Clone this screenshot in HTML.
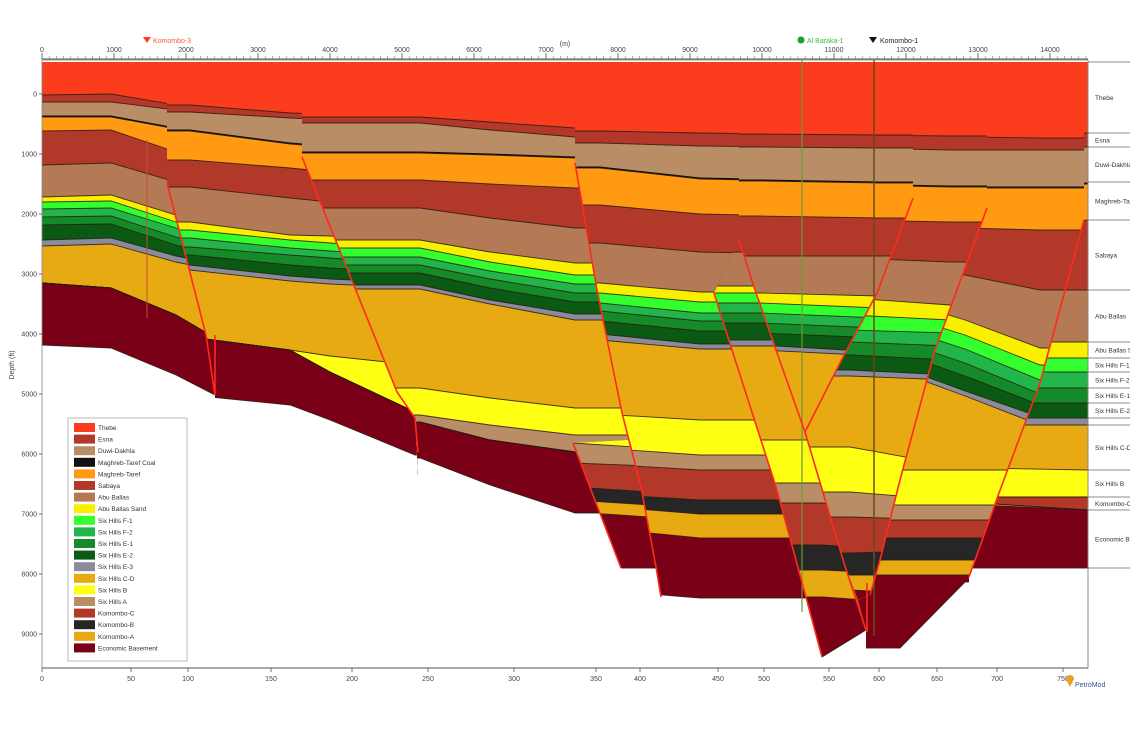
<!DOCTYPE html>
<html><head><meta charset="utf-8"><style>
html,body{margin:0;padding:0;background:#fff;}
svg{display:block;font-family:"Liberation Sans",sans-serif;}
</style></head><body>
<svg id="s" width="1130" height="730" viewBox="0 0 1130 730" xmlns="http://www.w3.org/2000/svg">
<defs id="defs"></defs>
<g id="plot"></g>
<g id="over"></g>
</svg>
<script>
const NS="http://www.w3.org/2000/svg";
const svg=document.getElementById('s'),defs=document.getElementById('defs'),plot=document.getElementById('plot'),over=document.getElementById('over');
function el(tag,attrs,parent,text){const e=document.createElementNS(NS,tag);for(const k in attrs)e.setAttribute(k,attrs[k]);if(text!==undefined)e.textContent=text;(parent||svg).appendChild(e);return e;}
const COLORS=["#b3372b","#b98d66","#111111","#ff9a12","#b2382a","#b47a56","#f8f000","#33ff2e","#22b64a","#148a28","#0b5a14","#8a8c9c","#e8aa12","#ffff14","#b98d66","#b2382a","#262626","#e8aa12","#7a0018"];
const THEBE="#fb3d1e";
el('rect',{x:42,y:62,width:1046,height:606,fill:THEBE},plot);
const blocks=[
 {clip:[[42,60],[167,60],[167,183],[206,335],[215,395],[215,700],[42,700]],xs:[42,111,176,215],rows:[
  [95,102,114,117,131,165,197,202,209,217,225,240,246,283,283,283,283,283,283,345],
  [94,102,114,117,130,163,195,201,208,216,224,238,244,288,288,288,288,288,288,348],
  [105,110,126,129,152,182,215,222,228,237,245,256,262,315,315,315,315,315,315,375],
  [110,115,132,135,160,188,222,230,238,247,255,264,270,338,338,338,338,338,338,395]]},
 {clip:[[167,60],[302,60],[302,157],[397,392],[415,418],[418,475],[418,700],[215,700],[215,395],[206,335],[167,183]],xs:[190,290,330,415],rows:[
  [105,112,128,131,160,187,222,230,238,247,255,265,270,337,337,337,337,337,337,395],
  [113,118,141,144,168,198,235,240,248,255,265,276,281,350,350,350,350,350,350,405],
  [114,120,144,147,172,202,236,243,251,258,268,279,284,356,372,372,372,372,372,420],
  [116,123,148,151,180,208,240,248,256,264,273,283,288,365,412,412,412,412,412,455]]},
 {clip:[[302,60],[575,60],[575,163],[597,290],[622,413],[641,487],[656,567],[661,597],[661,700],[418,700],[418,475],[415,418],[397,392],[302,157]],xs:[420,490,575],rows:[
  [117,123,150,153,180,208,240,248,257,265,273,285,289,388,415,422,422,422,422,458],
  [122,130,152,155,184,218,252,262,271,279,288,300,304,398,425,440,440,440,440,485],
  [128,137,155,158,188,228,263,275,284,293,302,314,320,408,435,452,452,452,452,513]]},
 {clip:[[573,443],[628,440],[641,487],[656,567],[661,597],[661,700],[621,700],[621,568]],xs:[573,650],rows:[
  [128,137,155,158,188,228,263,275,284,293,302,314,320,410,443,463,487,500,512,568],
  [130,140,160,163,195,235,270,280,290,298,308,320,326,416,448,466,492,505,517,568]]},
 {clip:[[575,60],[739,60],[739,240],[714,293],[732,350],[776,487],[796,560],[822,657],[822,700],[661,700],[661,597],[656,567],[641,487],[622,413],[597,290],[575,163]],xs:[600,700,800],rows:[
  [131,143,165,168,205,243,283,293,303,311,321,334,340,414,448,464,494,506,528,590],
  [133,146,176,179,214,252,292,302,313,321,331,344,349,420,455,470,500,514,538,598],
  [134,147,178,181,216,254,292,302,313,321,331,344,349,420,455,470,500,514,538,598]]},
 {clip:[[739,240],[754,287],[776,350],[805,432],[844,563],[866,630],[866,700],[822,700],[822,657],[796,560],[776,487],[732,350],[714,293]],xs:[822,866],rows:[
  [134,147,178,181,215,252,286,293,303,313,323,340,346,440,483,503,545,570,597,657],
  [135,148,180,183,218,255,290,297,307,317,327,342,348,445,487,507,548,572,600,630]]},
 {clip:[[739,60],[913,60],[913,198],[877,293],[840,363],[805,432],[776,350],[754,287],[739,240]],xs:[760,880],rows:[
  [134,147,178,181,216,256,293,303,313,323,333,345,350,700,700,700,700,700,700,700],
  [135,148,180,183,218,256,296,308,318,328,338,352,356,700,700,700,700,700,700,700]]},
 {clip:[[913,60],[987,60],[987,208],[935,350],[900,480],[880,560],[870,595],[858,600],[844,563],[805,432],[840,363],[877,293],[913,198]],xs:[850,950],rows:[
  [135,148,182,185,220,258,298,315,330,342,355,370,376,447,492,517,553,575,590,600],
  [136,150,184,187,222,262,305,320,333,346,360,375,380,465,500,520,550,575,595,600]]},
 {clip:[[987,60],[1084,60],[1084,220],[1040,383],[999,493],[969,577],[969,700],[866,700],[866,630],[858,600],[870,595],[880,560],[900,480],[935,350],[987,208]],xs:[900,965,1040],rows:[
  [136,150,184,188,224,258,300,315,328,341,353,367,372,470,505,520,538,560,575,648],
  [137,150,184,188,228,275,320,335,349,363,376,391,396,470,505,520,538,560,575,582],
  [138,150,184,188,230,290,348,365,380,394,405,417,425,470,505,520,538,560,575,580]]},
 {clip:[[1084,60],[1088,60],[1088,700],[969,700],[969,577],[999,493],[1040,383],[1084,220]],xs:[980,1088],rows:[
  [138,150,184,188,230,290,342,358,372,388,403,418,425,468,497,497,503,503,505,568],
  [133,147,180,184,220,290,342,358,372,388,403,418,425,470,497,497,510,510,510,568]]}
];
blocks.forEach((b,bi)=>{
 b.rows.forEach(r=>{r[2]=r[3]-1.5;});
 const cp=el('clipPath',{id:'c'+bi},defs);
 el('polygon',{points:b.clip.map(p=>p.join(',')).join(' ')},cp);
 const g=el('g',{'clip-path':'url(#c'+bi+')'},plot);
 const xs=[0,...b.xs,1130];
 const line=i=>{const r=b.rows;const ys=[r[0][i],...r.map(q=>q[i]),r[r.length-1][i]];return xs.map((x,k)=>[x,ys[k]]);};
 for(let i=0;i<19;i++){
  const L=line(i);
  el('polygon',{points:[...L,[1130,720],[0,720]].map(p=>p.join(',')).join(' '),fill:COLORS[i]},g);
 }
 const B=line(19);
 el('polygon',{points:[...B,[1130,720],[0,720]].map(p=>p.join(',')).join(' '),fill:'#fff'},g);
 for(let i=0;i<20;i++){
  if(i===2)continue;
  const L=line(i);
  el('polyline',{points:L.map(p=>p.join(',')).join(' '),fill:'none',stroke:'#2a1a10','stroke-width':0.9,'stroke-opacity':0.85},g);
 }
});
el('line',{x1:147,y1:140,x2:147,y2:318,stroke:'#c0503a','stroke-width':1},over);
el('line',{x1:802,y1:60,x2:802,y2:612,stroke:'#6a9a3a','stroke-width':1.2},over);
el('line',{x1:874,y1:60,x2:874,y2:636,stroke:'#6a4a10','stroke-width':1.5},over);
const faults=[[[167,183],[206,335],[215,395]],[[302,157],[397,392],[415,418],[418,452]],[[575,163],[597,290],[622,413],[641,487],[656,567],[661,597]],[[573,443],[621,568]],[[739,240],[754,287],[776,350],[805,432],[844,563],[866,630]],[[714,293],[732,350],[776,487],[796,560],[822,657]],[[913,198],[877,293],[840,363],[805,432]],[[987,208],[935,350],[900,480],[880,560],[870,595]],[[1084,220],[1040,383],[999,493],[969,577]],[[867,583],[867,632]],[[215,335],[215,395]]];
faults.forEach(f=>el('polyline',{points:f.map(p=>p.join(',')).join(' '),fill:'none',stroke:'#ff2a1a','stroke-width':1.6},over));
el('rect',{x:42,y:60,width:1046,height:608,fill:'none',stroke:'#888','stroke-width':0.8},over);
el('line',{x1:42,y1:59,x2:1088,y2:59,stroke:'#555','stroke-width':1},over);
el('line',{x1:42,y1:668,x2:1088,y2:668,stroke:'#555','stroke-width':1},over);
for(let x=42;x<=1088;x+=7.2){el('line',{x1:x,y1:56,x2:x,y2:59,stroke:'#777','stroke-width':0.6},over);}
for(let i=0;i<=14;i++){const x=42+i*72;el('line',{x1:x,y1:53,x2:x,y2:59,stroke:'#555','stroke-width':0.8},over);el('text',{x:x,y:52,'font-size':7,'text-anchor':'middle',fill:'#444'},over,String(i*1000));}
el('text',{x:565,y:46,'font-size':7,'text-anchor':'middle',fill:'#444'},over,'(m)');
for(let i=0;i<=9;i++){const y=94+i*60;el('line',{x1:39,y1:y,x2:42,y2:y,stroke:'#555','stroke-width':0.8},over);el('text',{x:37,y:y+2.5,'font-size':7,'text-anchor':'end',fill:'#444'},over,String(i*1000));}
el('text',{x:14,y:365,'font-size':7,'text-anchor':'middle',fill:'#444',transform:'rotate(-90 14 365)'},over,'Depth (ft)');
[[0,42],[50,131],[100,188],[150,271],[200,352],[250,428],[300,514],[350,596],[400,640],[450,718],[500,764],[550,829],[600,879],[650,937],[700,997],[750,1063]].forEach(([v,x])=>{el('line',{x1:x,y1:668,x2:x,y2:672,stroke:'#555','stroke-width':0.8},over);el('text',{x:x,y:681,'font-size':7,'text-anchor':'middle',fill:'#444'},over,String(v));});
el('path',{d:'M143,37 h8 l-4,6 z',fill:'#ff4020'},over);
el('text',{x:153,y:43,'font-size':7,fill:'#ff5a3a'},over,'Komombo-3');
el('circle',{cx:801,cy:40,r:3.5,fill:'#1aa030'},over);
el('text',{x:807,y:43,'font-size':7,fill:'#3cc040'},over,'Al Baraka-1');
el('path',{d:'M869,37 h8 l-4,6 z',fill:'#111'},over);
el('text',{x:880,y:43,'font-size':7,fill:'#222'},over,'Komombo-1');
const rl=[[62,133,'Thebe'],[133,147,'Esna'],[147,182,'Duwi-Dakhla'],[182,220,'Maghreb-Taref'],[220,290,'Sabaya'],[290,342,'Abu Ballas'],[342,358,'Abu Ballas Sand'],[358,372,'Six Hills F-1'],[372,388,'Six Hills F-2'],[388,403,'Six Hills E-1'],[403,418,'Six Hills E-2'],[425,470,'Six Hills C-D'],[470,497,'Six Hills B'],[497,510,'Komombo-C'],[510,568,'Economic Basement']];
const rg=el('g',{},over);
el('line',{x1:1088,y1:60,x2:1088,y2:668,stroke:'#888','stroke-width':0.8},rg);
[62,133,147,182,220,290,342,358,372,388,403,418,425,470,497,510,568].forEach(y=>el('line',{x1:1088,y1:y,x2:1130,y2:y,stroke:'#666','stroke-width':0.8},rg));
rl.forEach(([a,b,t])=>el('text',{x:1095,y:(a+b)/2+2.5,'font-size':6.5,fill:'#333'},rg,t));
const lg=el('g',{},over);
el('rect',{x:68,y:418,width:119,height:243,fill:'#fff',stroke:'#aaa','stroke-width':0.8},lg);
const names=['Thebe','Esna','Duwi-Dakhla','Maghreb-Taref Coal','Maghreb-Taref','Sabaya','Abu Ballas','Abu Ballas Sand','Six Hills F-1','Six Hills F-2','Six Hills E-1','Six Hills E-2','Six Hills E-3','Six Hills C-D','Six Hills B','Six Hills A','Komombo-C','Komombo-B','Komombo-A','Economic Basement'];
const lc=[THEBE,"#b3372b","#b98d66","#111111","#ff9a12","#b2382a","#b47a56","#f8f000","#33ff2e","#22b64a","#148a28","#0b5a14","#8a8c9c","#e8aa12","#ffff14","#b98d66","#b2382a","#262626","#e8aa12","#7a0018"];
names.forEach((n,i)=>{const y=423+i*11.6;el('rect',{x:74,y:y,width:21,height:9,fill:lc[i]},lg);el('text',{x:98,y:y+7,'font-size':6.5,fill:'#333'},lg,n);});
el('path',{d:'M1066,679 l4,8 l4,-8 a4,4 0 1 0 -8,0z',fill:'#e8a020'},over);
el('text',{x:1075,y:687,'font-size':7,fill:'#2a5aa0'},over,'PetroMod');
</script>
</body></html>
